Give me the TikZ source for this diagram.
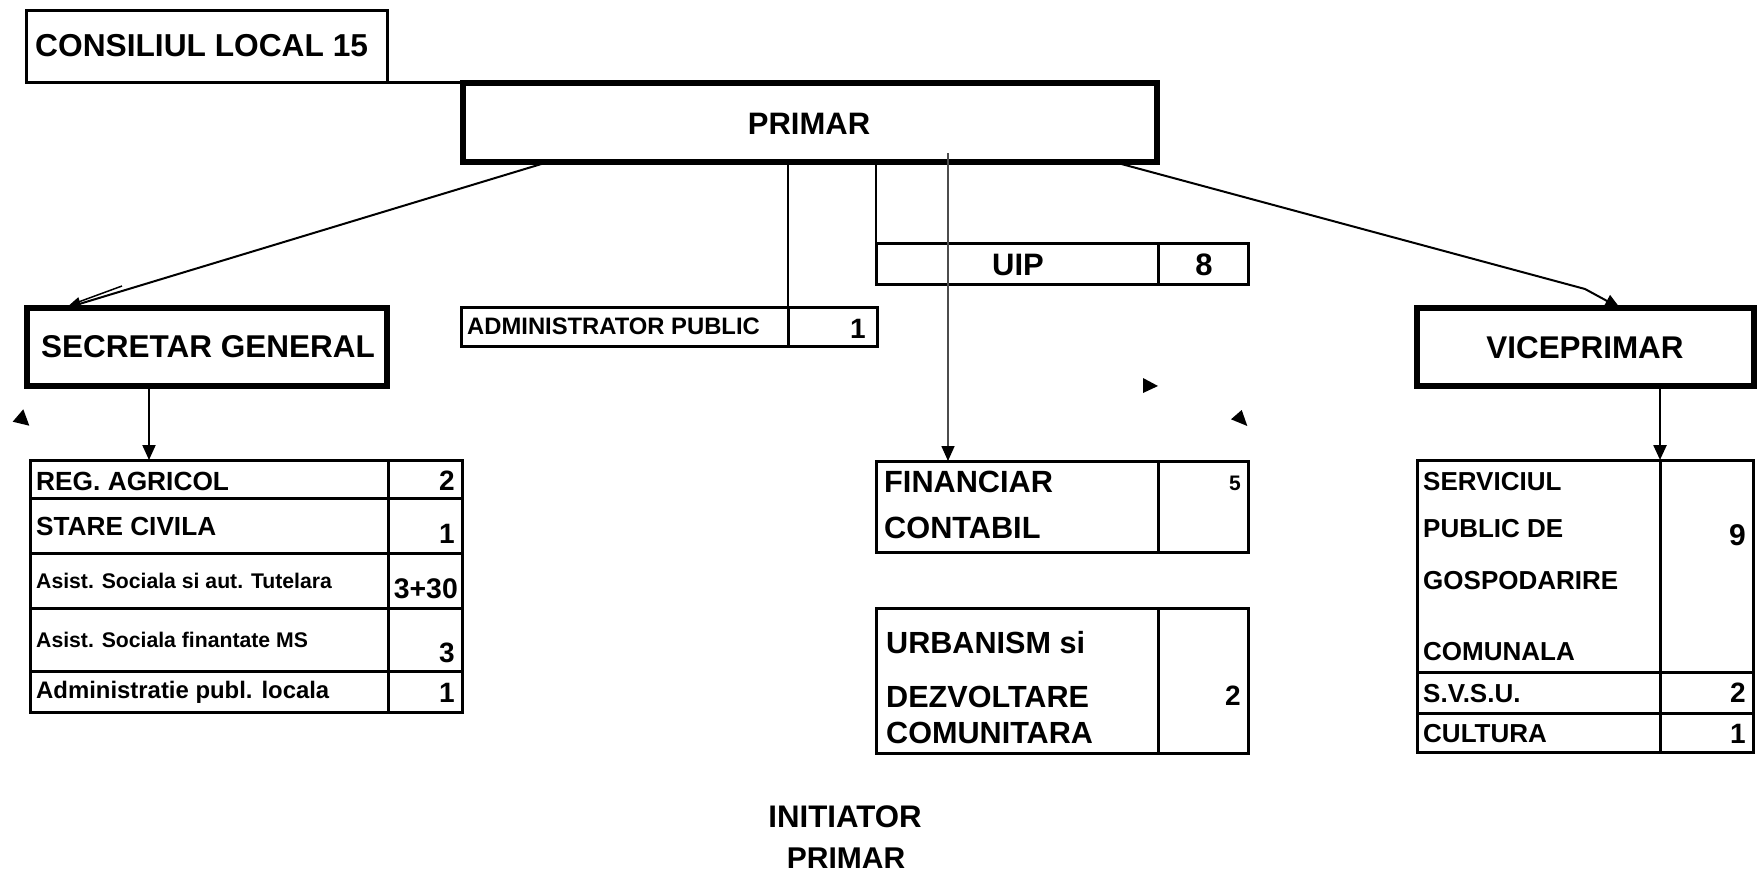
\documentclass[tikz,border=0pt]{standalone}
\usepackage{fontspec}
\setmainfont{Liberation Sans}
\usetikzlibrary{arrows.meta,calc}
\newcommand\myfs[1]{\fontsize{#1}{#1}\selectfont\bfseries}
\begin{document}
\begin{tikzpicture}[x=1pt,y=-1pt,
  bigbox/.style={draw,line width=6pt,inner sep=0pt,outer sep=0pt,anchor=north west},
  cellbox/.style={draw,line width=3pt,inner sep=0pt,outer sep=0pt,anchor=north west},
  lbl/.style={inner sep=0pt,anchor=base west},
  num/.style={inner sep=0pt,anchor=base east},
  ctr/.style={inner sep=0pt,anchor=base},
  conn/.style={line width=2pt},
  tipend/.style={-{Triangle[length=15pt,width=13pt,color=black]}},
  ]
\useasboundingbox (0,0) rectangle (1764,873);

% top boxes
\node[cellbox,minimum width=360.5pt,minimum height=72pt] (cons) at (26.5,10) {};
\node[lbl,font=\myfs{31.7}] (consT) at (35,56) {CONSILIUL LOCAL 15};

\node[bigbox,minimum width=694pt,minimum height=79pt] (primar) at (463,83) {};
\node[ctr,font=\myfs{31}] (primarT) at (809,134) {PRIMAR};

\node[bigbox,minimum width=360pt,minimum height=78pt] (secretar) at (27,308) {};
\node[ctr,font=\myfs{31.5}] (secretarT) at (208,357) {SECRETAR GENERAL};

\node[bigbox,minimum width=336.5pt,minimum height=78pt] (vice) at (1417,308) {};
\node[ctr,font=\myfs{31.4}] (viceT) at (1585,358.5) {VICEPRIMAR};

% administrator public
\node[cellbox,minimum width=327pt,minimum height=39pt] (adminN) at (461,307) {};
\node[cellbox,minimum width=89pt,minimum height=39pt] (adminV) at (788,307) {};
\node[lbl,font=\myfs{23.8}] (adminT) at (467,334) {ADMINISTRATOR PUBLIC};
\node[num,font=\myfs{28}] (adminNum) at (866,338) {1};

% UIP
\node[cellbox,minimum width=282pt,minimum height=41pt] (uipN) at (876,243) {};
\node[cellbox,minimum width=90pt,minimum height=41pt] (uipV) at (1158,243) {};
\node[ctr,font=\myfs{31}] (uipT) at (1018,275) {UIP};
\node[ctr,font=\myfs{31}] (uipNum) at (1204,275) {8};

% left table
\node[cellbox,minimum width=358pt,minimum height=38pt] (sgA) at (30,460) {};
\node[cellbox,minimum width=74pt,minimum height=38pt] (sgAv) at (388,460) {};
\node[cellbox,minimum width=358pt,minimum height=55pt] (sgB) at (30,498) {};
\node[cellbox,minimum width=74pt,minimum height=55pt] (sgBv) at (388,498) {};
\node[cellbox,minimum width=358pt,minimum height=55pt] (sgC) at (30,553) {};
\node[cellbox,minimum width=74pt,minimum height=55pt] (sgCv) at (388,553) {};
\node[cellbox,minimum width=358pt,minimum height=63pt] (sgD) at (30,608) {};
\node[cellbox,minimum width=74pt,minimum height=63pt] (sgDv) at (388,608) {};
\node[cellbox,minimum width=358pt,minimum height=41pt] (sgE) at (30,671) {};
\node[cellbox,minimum width=74pt,minimum height=41pt] (sgEv) at (388,671) {};

\node[lbl,font=\myfs{26.3}] (sgAT) at (36,490) {REG. AGRICOL};
\node[num,font=\myfs{28}] (sgAN) at (455,490) {2};
\node[lbl,font=\myfs{26.2}] (sgBT) at (36,535) {STARE CIVILA};
\node[num,font=\myfs{28}] (sgBN) at (455,543) {1};
\node[lbl,font=\myfs{21.2}] (sgCT) at (36,588) {Asist. Sociala si aut. Tutelara};
\node[num,font=\myfs{28.4}] (sgCN) at (458,598) {3+30};
\node[lbl,font=\myfs{21.2}] (sgDT) at (36,647) {Asist. Sociala finantate MS};
\node[num,font=\myfs{28}] (sgDN) at (455,662) {3};
\node[lbl,font=\myfs{23.9}] (sgET) at (36,698) {Administratie publ. locala};
\node[num,font=\myfs{28}] (sgEN) at (455,702) {1};

% financiar contabil
\node[cellbox,minimum width=282pt,minimum height=91pt] (finN) at (876,461) {};
\node[cellbox,minimum width=90pt,minimum height=91pt] (finV) at (1158,461) {};
\node[lbl,font=\myfs{30.7}] (finT1) at (884,492) {FINANCIAR};
\node[lbl,font=\myfs{30.7}] (finT2) at (884,538) {CONTABIL};
\node[num,font=\myfs{21}] (finNum) at (1241,490) {5};

% urbanism
\node[cellbox,minimum width=282pt,minimum height=145pt] (urbN) at (876,608) {};
\node[cellbox,minimum width=90pt,minimum height=145pt] (urbV) at (1158,608) {};
\node[lbl,font=\myfs{30.6}] (urbT1) at (886,653) {URBANISM si};
\node[lbl,font=\myfs{30.6}] (urbT2) at (886,707) {DEZVOLTARE};
\node[lbl,font=\myfs{30.6}] (urbT3) at (886,743) {COMUNITARA};
\node[num,font=\myfs{28}] (urbNum) at (1241,705) {2};

% right table
\node[cellbox,minimum width=243pt,minimum height=212pt] (rvA) at (1417,460) {};
\node[cellbox,minimum width=93pt,minimum height=212pt] (rvAv) at (1660,460) {};
\node[cellbox,minimum width=243pt,minimum height=41pt] (rvB) at (1417,672) {};
\node[cellbox,minimum width=93pt,minimum height=41pt] (rvBv) at (1660,672) {};
\node[cellbox,minimum width=243pt,minimum height=39pt] (rvC) at (1417,713) {};
\node[cellbox,minimum width=93pt,minimum height=39pt] (rvCv) at (1660,713) {};

\node[lbl,font=\myfs{26}] (rvT1) at (1423,490) {SERVICIUL};
\node[lbl,font=\myfs{26}] (rvT2) at (1423,537) {PUBLIC DE};
\node[lbl,font=\myfs{26}] (rvT3) at (1423,589) {GOSPODARIRE};
\node[lbl,font=\myfs{26}] (rvT4) at (1423,660) {COMUNALA};
\node[num,font=\myfs{30}] (rvAN) at (1746,545) {9};
\node[lbl,font=\myfs{26}] (rvBT) at (1423,702) {S.V.S.U.};
\node[num,font=\myfs{28}] (rvBN) at (1746,702) {2};
\node[lbl,font=\myfs{26}] (rvCT) at (1423,742) {CULTURA};
\node[num,font=\myfs{28}] (rvCN) at (1746,743) {1};

% bottom caption
\node[ctr,font=\myfs{31.2}] (initT) at (845,827) {INITIATOR};
\node[ctr,font=\myfs{30}] (initP) at (846,868) {PRIMAR};

% connectors
\draw[line width=3pt] (cons.south east) -- (cons.south east -| primar.north west);

\coordinate (pSecStart) at (548,162);
\coordinate (secTip) at ($(secretar.north west)+(39,0)$);
\coordinate (secKink) at (122,286);
\draw[conn,tipend] (pSecStart) -- (secTip);
\draw[line width=1.5pt] (secKink) -- ($(secTip)+(7,-4)$);

\draw[line width=2.5pt] (adminN.north east |- primar.south) -- (adminN.north east);
\draw[line width=2.5pt] (uipN.north west |- primar.south) -- (uipN.north west);

\coordinate (finStart) at (948,153);
\draw[line width=1.6pt,draw=black!70,tipend] (finStart) -- (finStart |- finN.north);

\coordinate (pViceStart) at (1114,162);
\coordinate (viceKink) at (1585,289);
\draw[conn,tipend] (pViceStart) -- (viceKink) -- ($(vice.north west)+(203,0)$);

\coordinate (secDown) at (149,386);
\draw[conn,tipend] (secDown) -- (secDown |- sgA.north);
\draw[line width=2.5pt,tipend] (rvAv.north west |- vice.south) -- (rvAv.north west);

% stray arrowheads
\fill (23.3,409.3) -- (12.7,421.7) -- (29.3,425.7) -- cycle;
\fill (1143,378) -- (1143,393) -- (1158,386) -- cycle;
\fill (1241.7,410) -- (1231,419.3) -- (1247.3,426) -- cycle;
\end{tikzpicture}
\end{document}
